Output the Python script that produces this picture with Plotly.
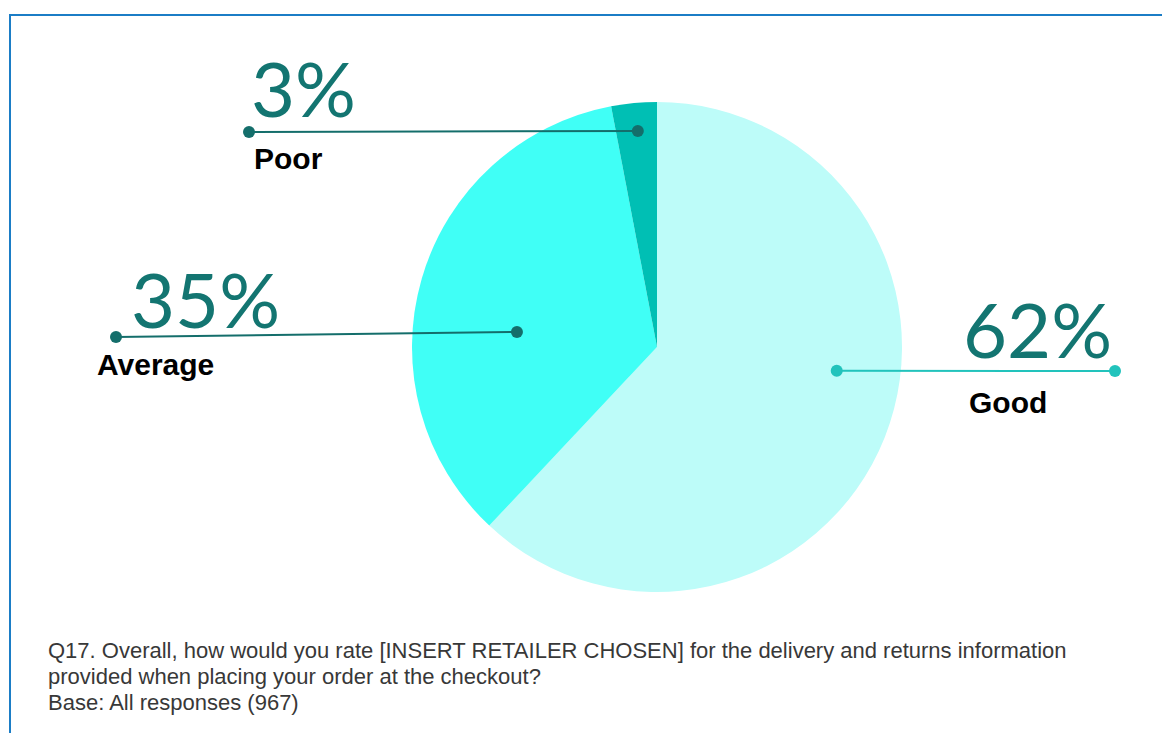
import math
import plotly.graph_objects as go

# Survey results
categories = ["Good", "Average", "Poor"]
shares = [62, 35, 3]
footnote_lines = [
    "Q17. Overall, how would you rate [INSERT RETAILER CHOSEN] for the delivery and returns information",
    "provided when placing your order at the checkout?",
    "Base: All responses (967)",
]

W, H = 1162, 733
slice_colors = ["#BDFCF9", "#40FFF6", "#00BFB4"]
leader_colors = ["#22C3BC", "#146E6B", "#146E6B"]
pct_color = "#137571"

# Pie geometry (pixels)
cx, cy, R = 657, 347, 245

# Per-slice callout layout: where the inner dot sits (fraction along the slice
# sweep and fraction of the radius), and where the outer dot / texts go.
callout = {
    "Good":    dict(frac=0.437, rfrac=0.74, outer=(1115, 371), pct=(1037, 328), pct_anchor="center",
                    name=(1008, 402), name_anchor="center"),
    "Average": dict(frac=0.42, rfrac=0.575, outer=(116, 337), pct=(205, 298), pct_anchor="center",
                    name=(95, 364), name_anchor="left"),
    "Poor":    dict(frac=0.53, rfrac=0.885, outer=(249, 132), pct=(303, 87), pct_anchor="center",
                    name=(252, 158), name_anchor="left"),
}

fig = go.Figure()

fig.add_trace(go.Pie(
    labels=categories, values=shares, sort=False, direction="clockwise", rotation=0,
    marker=dict(colors=slice_colors, line=dict(width=0)),
    textinfo="none", hoverinfo="label+percent", showlegend=False,
    domain=dict(x=[(cx - R) / W, (cx + R) / W], y=[1 - (cy + R) / H, 1 - (cy - R) / H]),
))

frame = "#1B7DC6"
shapes = [
    dict(type="line", xref="x", yref="y", x0=9, y0=15, x1=W, y1=15, line=dict(color=frame, width=2)),
    dict(type="line", xref="x", yref="y", x0=10, y0=15, x1=10, y1=H, line=dict(color=frame, width=2)),
]

total = sum(shares)
start = 0.0
annotations = []
dot_r = 6
for cat, val, lc in zip(categories, shares, leader_colors):
    sweep = 360.0 * val / total
    c = callout[cat]
    ang = math.radians(start + c["frac"] * sweep)
    ix = cx + c["rfrac"] * R * math.sin(ang)
    iy = cy - c["rfrac"] * R * math.cos(ang)
    ox, oy = c["outer"]
    # leader line with a dot at each end, drawn above the pie
    shapes.append(dict(type="line", xref="x", yref="y", layer="above",
                       x0=ix, y0=iy, x1=ox, y1=oy, line=dict(color=lc, width=2)))
    for px, py in ((ix, iy), (ox, oy)):
        shapes.append(dict(type="circle", xref="x", yref="y", layer="above",
                           x0=px - dot_r, x1=px + dot_r, y0=py - dot_r, y1=py + dot_r,
                           fillcolor=lc, line=dict(width=0)))
    annotations.append(dict(
        x=c["pct"][0], y=c["pct"][1], xref="x", yref="y", text=f"{val}%",
        showarrow=False, xanchor=c["pct_anchor"], yanchor="middle",
        font=dict(family="Lato", size=76, color=pct_color),
    ))
    annotations.append(dict(
        x=c["name"][0], y=c["name"][1], xref="x", yref="y", text=cat,
        showarrow=False, xanchor=c["name_anchor"], yanchor="middle",
        font=dict(family="Liberation Sans", size=30, color="#000000", weight="bold"),
    ))
    start += sweep

for i, line in enumerate(footnote_lines):
    annotations.append(dict(
        x=46, y=650 + 26 * i, xref="x", yref="y", text=line,
        showarrow=False, xanchor="left", yanchor="middle", align="left",
        font=dict(family="Liberation Sans", size=22, color="#383838"),
    ))

fig.update_layout(
    width=W, height=H, margin=dict(l=0, r=0, t=0, b=0),
    paper_bgcolor="white", plot_bgcolor="rgba(0,0,0,0)",
    xaxis=dict(range=[0, W], visible=False, fixedrange=True, domain=[0, 1]),
    yaxis=dict(range=[H, 0], visible=False, fixedrange=True, domain=[0, 1]),
    annotations=annotations, shapes=shapes,
)

fig.write_html("out.html")
